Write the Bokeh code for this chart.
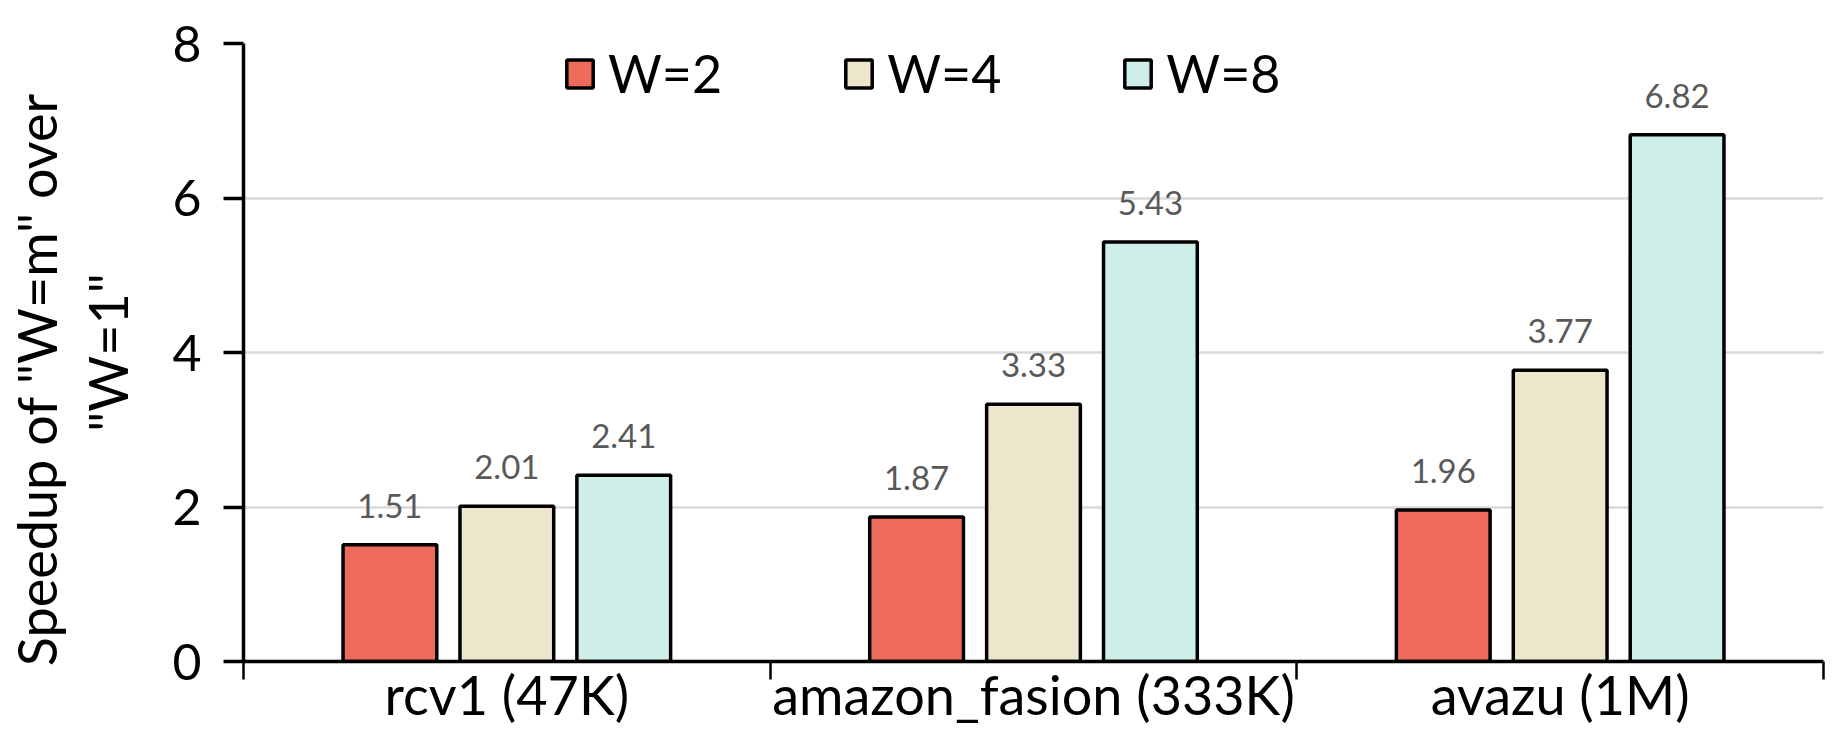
import numpy as np
from bokeh.plotting import figure
from bokeh.models import (ColumnDataSource, Range1d, FixedTicker, LabelSet, Legend, LegendItem)
from bokeh.transform import dodge
from bokeh.core.properties import value
from bokeh.embed import file_html
from bokeh.resources import INLINE

# ---- data ----
categories = ["rcv1 (47K)", "amazon_fasion (333K)", "avazu (1M)"]
series_names = ["W=2", "W=4", "W=8"]
w2 = [1.51, 1.87, 1.96]
w4 = [2.01, 3.33, 3.77]
w8 = [2.41, 5.43, 6.82]
y_ticks = [0, 2, 4, 6, 8]
y_title = ['Speedup of "W=m" over', '"W=1"']

colors = ["#EE6B5B", "#EDE6CD", "#CEEFE9"]
FONT = "Lato"

xc = np.arange(len(categories)) + 0.5
src = ColumnDataSource(dict(
    x=xc, w2=w2, w4=w4, w8=w8,
    l2=["%.2f" % v for v in w2],
    l4=["%.2f" % v for v in w4],
    l8=["%.2f" % v for v in w8],
))

p = figure(width=1826, height=729, output_backend="svg", toolbar_location=None,
           x_range=Range1d(0, len(categories)), y_range=Range1d(0, 8))
p.min_border_left = 200
p.min_border_top = 43
p.min_border_right = 3
p.min_border_bottom = 40
p.outline_line_color = None
p.background_fill_color = "white"
p.border_fill_color = "white"

offsets = [-0.222, 0.0, 0.222]
bw = 0.178
cols = ["w2", "w4", "w8"]
labs = ["l2", "l4", "l8"]
renderers = []
for col, lab, off, c in zip(cols, labs, offsets, colors):
    r = p.vbar(x=dodge("x", off, range=p.x_range), top=col, width=bw, source=src,
               fill_color=c, line_color="black", line_width=3.5)
    renderers.append(r)
    ls = LabelSet(x=dodge("x", off, range=p.x_range), y=col, text=lab, source=src,
                  text_align="center", text_baseline="alphabetic", y_offset=27,
                  text_font=value(FONT), text_font_size="33px", text_color="#595959")
    p.add_layout(ls)

# y axis
p.yaxis.ticker = FixedTicker(ticks=y_ticks)
p.yaxis.major_tick_out = 20
p.yaxis.major_tick_in = 0
p.yaxis.minor_tick_line_color = None
p.yaxis.major_tick_line_width = 3.5
p.yaxis.axis_line_width = 3.5
p.yaxis.axis_line_color = "black"
p.yaxis.major_label_text_font = FONT
p.yaxis.major_label_text_font_size = "50px"
p.yaxis.major_label_text_color = "black"
p.yaxis.major_label_standoff = 22
p.yaxis.axis_label = y_title[0] + "\u00a0" * 4 + "\n" + y_title[1]
p.yaxis.axis_label_text_font = FONT
p.yaxis.axis_label_text_font_size = "54px"
p.yaxis.axis_label_text_font_style = "normal"
p.yaxis.axis_label_text_color = "black"
p.yaxis.axis_label_text_line_height = 1.1
p.yaxis.axis_label_standoff = 29

# x axis: labels at category centres, ticks at category boundaries
p.xaxis.ticker = FixedTicker(ticks=list(xc), minor_ticks=list(range(len(categories) + 1)))
p.xaxis.major_label_overrides = {float(x): c for x, c in zip(xc, categories)}
p.xaxis.major_tick_out = 0
p.xaxis.major_tick_in = 0
p.xaxis.minor_tick_out = 18
p.xaxis.minor_tick_in = 0
p.xaxis.minor_tick_line_width = 2.5
p.xaxis.minor_tick_line_color = "black"
p.xaxis.axis_line_width = 3.5
p.xaxis.axis_line_color = "black"
p.xaxis.major_label_text_font = FONT
p.xaxis.major_label_text_font_size = "54px"
p.xaxis.major_label_text_color = "black"
p.xaxis.major_label_standoff = -18

p.xgrid.grid_line_color = None
p.ygrid.ticker = FixedTicker(ticks=y_ticks)
p.ygrid.grid_line_color = "#D9D9D9"
p.ygrid.grid_line_width = 2.5

legend = Legend(items=[LegendItem(label=n, renderers=[r]) for n, r in zip(series_names, renderers)],
                orientation="horizontal", location=(320, 557))
legend.glyph_width = 33
legend.glyph_height = 35
legend.label_standoff = 12
legend.spacing = 120
legend.padding = 0
legend.margin = 0
legend.background_fill_alpha = 0
legend.border_line_alpha = 0
legend.label_text_font = FONT
legend.label_text_font_size = "52px"
legend.label_text_color = "black"
p.add_layout(legend)

open("out.html", "w").write(file_html(p, INLINE))
